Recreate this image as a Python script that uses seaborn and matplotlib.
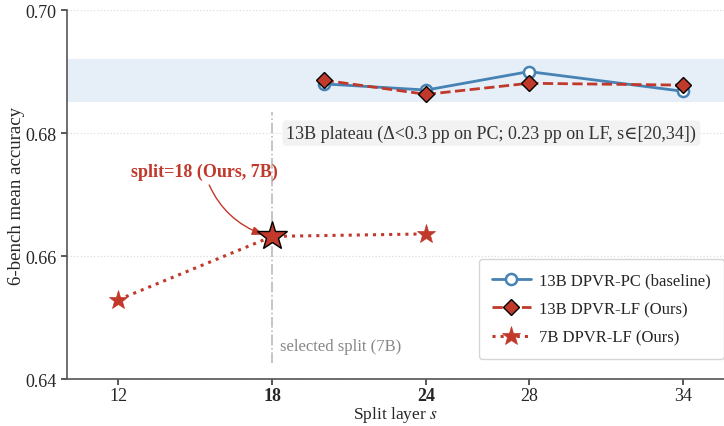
import matplotlib
matplotlib.use("Agg")
import matplotlib.pyplot as plt
import seaborn as sns
import numpy as np

# data
layers_13b = [20, 24, 28, 34]
pc_13b = [0.6880, 0.6870, 0.6900, 0.6868]
lf_13b = [0.6886, 0.6863, 0.6881, 0.6878]
layers_7b = [12, 18, 24]
lf_7b = [0.6529, 0.6632, 0.6636]
xticks = [12, 18, 24, 28, 34]
yticks = [0.64, 0.66, 0.68, 0.70]
band = (0.685, 0.692)
selected = 18

sns.set_theme(style="ticks")
plt.rcParams['font.family'] = ['Liberation Serif', 'DejaVu Serif']
plt.rcParams['mathtext.fontset'] = 'stix'

blue = "#4682B4"
red = "#C0392B"

fig = plt.figure(figsize=(7.24, 4.27), dpi=100)
ax = fig.add_axes([0.0925, 0.11, 0.9075, 0.864])

ax.axhspan(band[0], band[1], color="#E6EFF8", zorder=0, lw=0)
ax.axvline(selected, ymin=0.043, ymax=0.724, color="#BBBBBB", ls="-.", lw=1.2, zorder=1)

sns.lineplot(x=layers_13b, y=pc_13b, ax=ax, color=blue, lw=2, marker="o",
             markersize=8, markerfacecolor="white", markeredgecolor=blue,
             markeredgewidth=1.8, label="13B DPVR-PC (baseline)", zorder=3)
sns.lineplot(x=layers_13b, y=lf_13b, ax=ax, color=red, lw=2, linestyle="--", marker="D",
             markersize=8.5, markerfacecolor=red, markeredgecolor="black",
             markeredgewidth=1.0, label="13B DPVR-LF (Ours)", zorder=4)
sns.lineplot(x=layers_7b, y=lf_7b, ax=ax, color=red, lw=2.2, linestyle=":", marker="*",
             markersize=14, markerfacecolor=red, markeredgecolor=red,
             markeredgewidth=0.5, label="7B DPVR-LF (Ours)", zorder=4)
idx = layers_7b.index(selected)
ax.plot([selected], [lf_7b[idx]], marker="*", markersize=22, color=red,
        markeredgecolor="black", markeredgewidth=1.0, zorder=5, ls="none")

ax.annotate("split=18 (Ours, 7B)", xy=(selected - 0.3, lf_7b[idx] + 0.0002),
            xytext=(15.35, 0.6737), ha="center", va="center",
            fontsize=13, fontweight="bold", color=red,
            arrowprops=dict(arrowstyle="-|>,head_length=0.5,head_width=0.2", color=red, lw=1.0,
                            connectionstyle="arc3,rad=0.25", shrinkA=1, shrinkB=1))

ax.text(18.55, 0.68, "13B plateau (\u0394<0.3 pp on PC; 0.23 pp on LF, s\u2208[20,34])",
        fontsize=13, color="#333333", ha="left", va="center",
        bbox=dict(boxstyle="round,pad=0.22", fc="#F2F2F2", ec="none"), zorder=6)
ax.text(18.3, 0.6454, "selected split (7B)", fontsize=12, color="#888888",
        ha="left", va="center")

ax.set_xlim(10, 35.6)
ax.set_ylim(0.64, 0.70)
ax.set_xticks(xticks)
ax.set_xticklabels([str(t) for t in xticks])
for lab in ax.get_xticklabels():
    if lab.get_text() in ("18", "24"):
        lab.set_fontweight("bold")
ax.set_yticks(yticks)
ax.set_yticklabels([f"{t:.2f}" for t in yticks])
ax.tick_params(labelsize=13, length=4, color="#444444")
ax.tick_params(axis="x", pad=2)
ax.grid(axis="y", ls=":", color="#DDDDDD", lw=0.9)
ax.set_xlabel("Split layer $s$", fontsize=12.5, labelpad=0)
ax.set_ylabel("6-bench mean accuracy", fontsize=13.6, labelpad=0)
for s in ["top", "right"]:
    ax.spines[s].set_visible(False)
for s in ["left", "bottom"]:
    ax.spines[s].set_color("#555555")
    ax.spines[s].set_linewidth(1.2)

leg = ax.legend(loc="lower right", bbox_to_anchor=(1.0, 0.055), borderaxespad=0,
                fontsize=12, frameon=True, fancybox=True, handlelength=2.3,
                handletextpad=0.5, labelspacing=0.75, borderpad=0.8)
leg.get_frame().set_edgecolor("#CCCCCC")

fig.savefig("out.png", dpi=100)
